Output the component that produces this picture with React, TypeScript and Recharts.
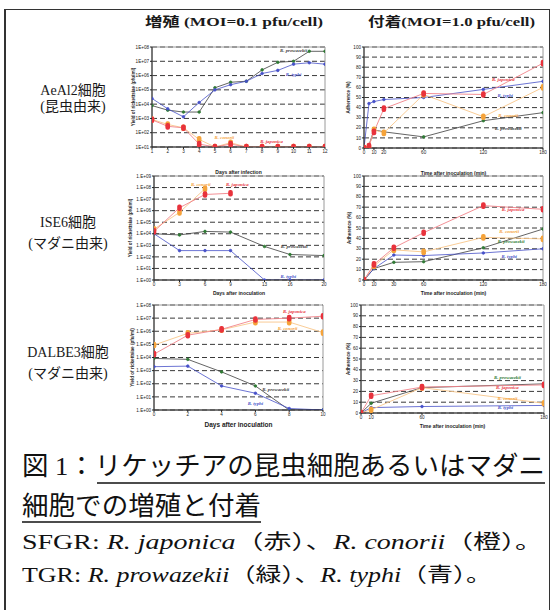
import React from 'react';
import { LineChart, Line, XAxis, YAxis, CartesianGrid, ReferenceArea, ReferenceDot } from 'recharts';

// ---- AeAl2 growth (MOI 0.1) ----
const aeGrowthDays = [1, 2, 3, 4, 5, 6, 7, 8, 9, 10, 11, 12];
const aeGrowthJaponica = [800, 280, 220, 16, 10, 16, 10, 10, 10, 10, 10, 10];
const aeGrowthConorii = [850, 380, 220, 34, 10, 20, 10, 10, 10, 10, 10, 10];
const aeGrowthProwazekii = [7900, 3800, 2800, 2800, 1.4e5, 3.4e5, 4.0e5, 2.5e6, 8.5e6, 1.0e7, 5.0e7, 5.0e7];
const aeGrowthTyphi = [2.5e4, 4700, 1300, 1.3e4, 1.0e5, 2.3e5, 4.0e5, 1.4e6, 2.3e6, 6.3e6, 7.9e6, 6.3e6];

// ---- AeAl2 adherence (MOI 1.0) ----
const aeAdhMinutes = [0, 5, 10, 20, 60, 120, 180];
const aeAdhJaponica = [0, 2, 16, 39, 54, 53, 84];
const aeAdhConorii = [0, 1, 18, 15, 53, 31, 60];
const aeAdhProwazekii = [0, 3, 18, 16, 11, 27, 35];
const aeAdhTyphi = [0, 44, 46, 48, 50, 58, 66];

// ---- ISE6 growth ----
const iseGrowthDays = [0, 3, 6, 9, 13, 16, 20];
const iseGrowthJaponica = [1.6e4, 1.8e6, 2.5e7, 3.2e7, null, null, null];
const iseGrowthConorii = [2.5e4, 7.1e5, 7.9e7, null, null, null, null];
const iseGrowthProwazekii = [1e4, 7900, 1.6e4, 1.4e4, 800, 160, 130];
const iseGrowthTyphi = [1e4, 350, 350, 350, 1, 1, 1];

// ---- ISE6 adherence ----
const iseAdhMinutes = [0, 10, 30, 60, 120, 180];
const iseAdhJaponica = [0, 15, 31, 45.5, 71.5, 68];
const iseAdhConorii = [0, 13.5, 29, 27, 41, 39.5];
const iseAdhProwazekii = [0, 11, 17, 17.6, 31, 49];
const iseAdhTyphi = [0, 11, 24, 23.5, 26, 30];

// ---- DALBE3 growth ----
const dalGrowthDays = [0, 2, 4, 6, 8, 10];
const dalGrowthJaponica = [1.8e4, 5.0e5, 1.4e6, 7.9e6, 1.0e7, 1.4e7];
const dalGrowthConorii = [8.9e4, 6.9e5, 1.3e6, 5.0e6, 5.0e6, 7.9e5];
const dalGrowthProwazekii = [8500, 7200, 800, 68, 1, 1];
const dalGrowthTyphi = [2000, 2200, 68, 19, 1.3, 1];

// ---- DALBE3 adherence ----
const dalAdhMinutes = [0, 10, 60, 180];
const dalAdhJaponica = [0, 16, 24, 26];
const dalAdhConorii = [0, 3, 23.5, 9];
const dalAdhProwazekii = [0, 9, 23.5, 27];
const dalAdhTyphi = [0, 5, 6, 7];

const adhTicks = [0, 10, 20, 30, 40, 50, 60, 70, 80, 90, 100];

const RED = '#e8323c';
const ORANGE = '#f5a33a';
const GREEN = '#2f7a34';
const DARK = '#3c3c3c';
const BLUE = '#4650c8';

const build = (xs: number[], j: any[], c: any[], p: any[], t: any[]) =>
  xs.map((x, i) => ({ x, japonica: j[i], conorii: c[i], prowazekii: p[i], typhi: t[i] }));

const pill = (color: string) => (p: any) => {
  if (p.cx == null || p.cy == null || p.value == null) return <g key={`e-${p.index}`} />;
  return <rect key={`d-${p.index}`} x={p.cx - 2.3} y={p.cy - 3.3} width={4.6} height={6.6} rx={2} fill={color} />;
};

const expLabel = (dot: boolean) => (v: number) => {
  const e = Math.round(Math.log10(v));
  return `1${dot ? '.' : ''}E+${e < 10 ? '0' : ''}${e}`;
};

const tickStyle = { fontSize: 4.6, fill: '#222', fontFamily: 'Arial, Liberation Sans, sans-serif' };

interface Note { x: number; y: number; text: string; color: string; }

interface PanelProps {
  plot: [number, number, number, number]; // left, top, right, bottom
  data: any[];
  xTicks: number[];
  xDomain: [number, number];
  log?: boolean;
  yDomain: [number, number];
  yTicks: number[];
  yFmt?: (v: number) => string;
  xLabel: string;
  yLabel: string;
  xLabelGap: number;
  xLabelSize?: number;
  yLabelX: number;
  notes: Note[];
}

const YW = 28;

const Panel: React.FC<PanelProps> = (props) => {
  const [pl, pt, pr, pb] = props.plot;
  const xh = 9;
  const mb = props.xLabelGap + 9;
  const left = pl - YW;
  const top = pt - 4;
  const width = YW + (pr - pl) + 4;
  const height = 4 + (pb - pt) + xh + mb;
  return (
    <div style={{ position: 'absolute', left, top, width, height }}>
      <LineChart width={width} height={height} data={props.data} margin={{ top: 4, right: 4, bottom: mb, left: 0 }}>
        <CartesianGrid vertical={false} stroke="#222" strokeDasharray="5 3" strokeWidth={0.9} />
        <ReferenceArea x1={props.xDomain[0]} x2={props.xDomain[1]} y1={props.yDomain[0]} y2={props.yDomain[1]}
          fill="none" stroke="#9a9a9a" strokeWidth={1} ifOverflow="visible" />
        <XAxis dataKey="x" type="number" domain={props.xDomain} ticks={props.xTicks} height={xh}
          tick={tickStyle} tickSize={2} tickMargin={1} stroke="#222" allowDataOverflow interval={0}
          label={{ value: props.xLabel, position: 'bottom', offset: props.xLabelGap,
            style: { fontSize: props.xLabelSize || 5, fill: '#222', fontWeight: 'bold', fontFamily: 'Arial, sans-serif' } }} />
        <YAxis type="number" scale={props.log ? 'log' : 'linear'} domain={props.yDomain} ticks={props.yTicks}
          width={YW} tick={tickStyle} tickSize={2} tickMargin={1} stroke="#222" allowDataOverflow interval={0}
          tickFormatter={props.yFmt}
          label={{ value: props.yLabel, angle: -90, position: 'insideLeft', offset: props.yLabelX - left,
            style: { textAnchor: 'middle', fontSize: 4.6, fill: '#222', fontWeight: 'bold', fontFamily: 'Arial, sans-serif' } }} />
        <Line dataKey="prowazekii" stroke={DARK} strokeWidth={0.8} connectNulls isAnimationActive={false}
          dot={{ r: 1.3, fill: GREEN, stroke: GREEN }} />
        <Line dataKey="typhi" stroke={BLUE} strokeWidth={0.8} connectNulls isAnimationActive={false}
          dot={{ r: 1.3, fill: BLUE, stroke: BLUE }} />
        <Line dataKey="conorii" stroke="#f8c68a" strokeWidth={0.9} connectNulls isAnimationActive={false}
          dot={pill(ORANGE)} />
        <Line dataKey="japonica" stroke="#f2838a" strokeWidth={0.9} connectNulls isAnimationActive={false}
          dot={pill(RED)} />
        {props.notes.map((n, i) => (
          <ReferenceDot key={i} x={n.x} y={n.y} r={0} ifOverflow="visible"
            label={{ value: n.text, position: 'center',
              style: { fontSize: 4.8, fill: n.color, fontStyle: 'italic', fontWeight: 'bold', fontFamily: 'Liberation Serif, serif' } }} />
        ))}
      </LineChart>
    </div>
  );
};

const serif = "'Liberation Serif', 'DejaVu Serif', 'Noto Sans CJK JP', serif";
const jp = "'Liberation Serif', 'Noto Sans CJK JP', serif";

const App: React.FC = () => {
  return (
    <div style={{ position: 'absolute', left: 0, top: 0, width: 553, height: 610, background: '#fff', overflow: 'hidden' }}>
      {/* frame */}
      <div style={{ position: 'absolute', left: 4, top: 9, width: 543, height: 620,
        borderLeft: '2px solid #333', borderTop: '1.5px solid #333', borderRight: '1.5px solid #333' }} />

      <Panel plot={[152, 47, 325, 147]} data={build(aeGrowthDays, aeGrowthJaponica, aeGrowthConorii, aeGrowthProwazekii, aeGrowthTyphi)}
        xTicks={aeGrowthDays} xDomain={[1, 12]} log yDomain={[10, 1e8]}
        yTicks={[1e1, 1e2, 1e3, 1e4, 1e5, 1e6, 1e7, 1e8]} yFmt={expLabel(false)}
        xLabel="Days after infection" yLabel="Yield of rickettsiae (pfu/ml)" xLabelGap={14} yLabelX={133}
        notes={[
          { x: 10, y: 6e7, text: 'R. prowazekii', color: DARK },
          { x: 10, y: 1.2e6, text: 'R. typhi', color: BLUE },
          { x: 5.6, y: 45, text: 'R. conorii', color: ORANGE },
          { x: 8.6, y: 26, text: 'R. japonica', color: RED },
        ]} />

      <Panel plot={[364, 47, 543, 148]} data={build(aeAdhMinutes, aeAdhJaponica, aeAdhConorii, aeAdhProwazekii, aeAdhTyphi)}
        xTicks={[0, 10, 20, 60, 120, 180]} xDomain={[0, 180]} yDomain={[0, 100]} yTicks={adhTicks}
        xLabel="Time after inoculation (min)" yLabel="Adherence (%)" xLabelGap={14} yLabelX={348}
        notes={[
          { x: 140, y: 68, text: 'R. japonica', color: RED },
          { x: 142, y: 52, text: 'R. typhi', color: BLUE },
          { x: 145, y: 32, text: 'R. conorii', color: ORANGE },
          { x: 145, y: 20, text: 'R. prowazekii', color: DARK },
        ]} />

      <Panel plot={[154, 176, 324, 280]} data={build(iseGrowthDays, iseGrowthJaponica, iseGrowthConorii, iseGrowthProwazekii, iseGrowthTyphi)}
        xTicks={iseGrowthDays} xDomain={[0, 20]} log yDomain={[1, 1e9]}
        yTicks={[1, 1e1, 1e2, 1e3, 1e4, 1e5, 1e6, 1e7, 1e8, 1e9]} yFmt={expLabel(true)}
        xLabel="Days after inoculation" yLabel="Yield of rickettsiae (pfu/ml)" xLabelGap={2} yLabelX={130}
        notes={[
          { x: 5.5, y: 2e8, text: 'R. conorii', color: ORANGE },
          { x: 9.8, y: 2e8, text: 'R. japonica', color: RED },
          { x: 16.5, y: 900, text: 'R. prowazekii', color: DARK },
          { x: 15.8, y: 2.2, text: 'R. typhi', color: BLUE },
        ]} />

      <Panel plot={[364, 176, 543, 280]} data={build(iseAdhMinutes, iseAdhJaponica, iseAdhConorii, iseAdhProwazekii, iseAdhTyphi)}
        xTicks={iseAdhMinutes} xDomain={[0, 180]} yDomain={[0, 100]} yTicks={adhTicks}
        xLabel="Time after inoculation (min)" yLabel="Adherence (%)" xLabelGap={2} yLabelX={349}
        notes={[
          { x: 150, y: 68, text: 'R. japonica', color: RED },
          { x: 146, y: 47, text: 'R. conorii', color: ORANGE },
          { x: 148, y: 37, text: 'R. prowazekii', color: GREEN },
          { x: 146, y: 23, text: 'R. typhi', color: BLUE },
        ]} />

      <Panel plot={[154, 305, 323, 410]} data={build(dalGrowthDays, dalGrowthJaponica, dalGrowthConorii, dalGrowthProwazekii, dalGrowthTyphi)}
        xTicks={dalGrowthDays} xDomain={[0, 10]} log yDomain={[1, 1e8]}
        yTicks={[1, 1e1, 1e2, 1e3, 1e4, 1e5, 1e6, 1e7, 1e8]} yFmt={expLabel(true)}
        xLabel="Days after inoculation" xLabelSize={6.5} yLabel="Yield of rickettsiae (pfu/ml)" xLabelGap={3} yLabelX={132}
        notes={[
          { x: 8.3, y: 3.5e7, text: 'R. japonica', color: RED },
          { x: 7.9, y: 1.6e6, text: 'R. conorii', color: ORANGE },
          { x: 7.2, y: 40, text: 'R. prowazekii', color: DARK },
          { x: 6.0, y: 3, text: 'R. typhi', color: BLUE },
        ]} />

      <Panel plot={[361, 305, 544, 413]} data={build(dalAdhMinutes, dalAdhJaponica, dalAdhConorii, dalAdhProwazekii, dalAdhTyphi)}
        xTicks={[0, 10, 60, 180]} xDomain={[0, 180]} yDomain={[0, 100]} yTicks={adhTicks}
        xLabel="Time after inoculation (min)" yLabel="Adherence (%)" xLabelGap={2} yLabelX={348}
        notes={[
          { x: 144, y: 33, text: 'R. prowazekii', color: GREEN },
          { x: 144, y: 24, text: 'R. japonica', color: RED },
          { x: 144, y: 14, text: 'R. conorii', color: ORANGE },
          { x: 142, y: 5, text: 'R. typhi', color: BLUE },
        ]} />

      <svg width={553} height={610} style={{ position: 'absolute', left: 0, top: 0, pointerEvents: 'none' }}>
        <g fontFamily={jp} fill="#1a1a1a" fontWeight="bold">
          <text x={145} y={26} fontSize={13} textLength={178} lengthAdjust="spacingAndGlyphs">増殖 (MOI=0.1 pfu/cell)</text>
          <text x={368} y={26} fontSize={13} textLength={167} lengthAdjust="spacingAndGlyphs">付着(MOI=1.0 pfu/cell)</text>
        </g>
        <g fontFamily={jp} fill="#1a1a1a" fontSize={14} textAnchor="middle">
          <text x={73} y={95}>AeAl2細胞</text>
          <text x={73} y={111}>(昆虫由来)</text>
          <text x={68} y={227}>ISE6細胞</text>
          <text x={68} y={248}>(マダニ由来)</text>
          <text x={68} y={357}>DALBE3細胞</text>
          <text x={68} y={378}>(マダニ由来)</text>
        </g>
        <g fontFamily={serif} fill="#111">
          <text x={22} y={475} fontSize={26} textLength={523} lengthAdjust="spacingAndGlyphs">図 1：リケッチアの昆虫細胞あるいはマダニ</text>
          <line x1={97} y1={483} x2={545} y2={483} stroke="#111" strokeWidth={1.3} />
          <text x={22} y={515} fontSize={26} textLength={239} lengthAdjust="spacingAndGlyphs">細胞での増殖と付着</text>
          <line x1={22} y1={522} x2={261} y2={522} stroke="#111" strokeWidth={1.3} />
          <text x={22} y={549} fontSize={20} textLength={521} lengthAdjust="spacingAndGlyphs">
            SFGR: <tspan fontStyle="italic">R. japonica</tspan>（赤）、<tspan fontStyle="italic">R. conorii</tspan>（橙）。
          </text>
          <text x={22} y={582} fontSize={20} textLength={470} lengthAdjust="spacingAndGlyphs">
            TGR: <tspan fontStyle="italic">R. prowazekii</tspan>（緑）、<tspan fontStyle="italic">R. typhi</tspan>（青）。
          </text>
        </g>
      </svg>
    </div>
  );
};

export default App;
